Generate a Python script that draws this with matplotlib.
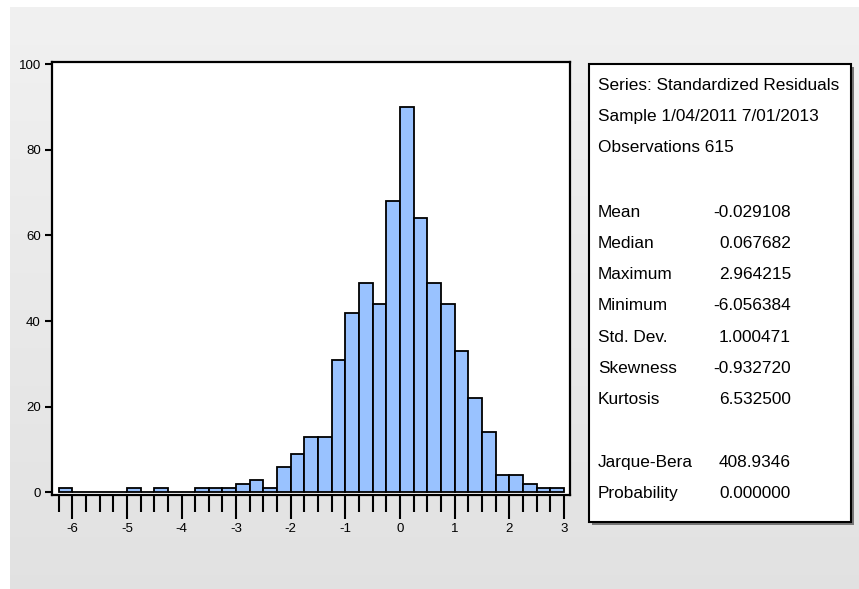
"""EViews-style histogram of standardized residuals with a stats panel."""

import numpy as np
import matplotlib

matplotlib.use("Agg")
import matplotlib.pyplot as plt
from matplotlib.patches import Rectangle
from matplotlib.ticker import FixedLocator

plt.rcParams["font.family"] = ["Liberation Sans", "DejaVu Sans"]

# bins of width 0.25 from -6.25 to 3.0
bin_width = 0.25
bin_left = np.arange(-6.25, 3.0, bin_width)
counts = [
    1, 0, 0, 0, 0, 1, 0, 1, 0, 0,
    1, 1, 1, 2, 3, 1, 6, 9, 13, 13,
    31, 42, 49, 44, 68, 90, 64, 49, 44, 33,
    22, 14, 4, 4, 2, 1, 1,
]
x_major = [-6, -5, -4, -3, -2, -1, 0, 1, 2, 3]
y_major = [0, 20, 40, 60, 80, 100]

header_lines = [
    "Series: Standardized Residuals",
    "Sample 1/04/2011 7/01/2013",
    "Observations 615",
]
stat_names = ["Mean", "Median", "Maximum", "Minimum", "Std. Dev.",
              "Skewness", "Kurtosis", None, "Jarque-Bera", "Probability"]
stat_values = ["-0.029108", "0.067682", "2.964215", "-6.056384", "1.000471",
               "-0.932720", "6.532500", None, "408.9346", "0.000000"]

W, H = 859, 589
fig = plt.figure(figsize=(W / 100, H / 100), dpi=100, facecolor="white")


def box(x0, y0, x1, y1):
    # pixel box (top-left origin) -> figure fraction rect
    return [x0 / W, 1 - y1 / H, (x1 - x0) / W, (y1 - y0) / H]


# grey gradient backdrop
bg = fig.add_axes(box(10, 7, W, H), zorder=-10)
grad = np.linspace(0.945, 0.885, 256)[:, None]
bg.imshow(np.dstack([grad, grad, grad]), aspect="auto", extent=[0, 1, 0, 1])
bg.axis("off")

ax = fig.add_axes(box(52, 62, 570, 495))
ax.set_facecolor("white")
ax.bar(bin_left, counts, width=bin_width, align="edge",
       color="#99c2ff", edgecolor="black", linewidth=1.3, zorder=3)

ax.set_xlim(-6.37, 3.11)
ax.set_ylim(-0.6, 100.5)
for s in ax.spines.values():
    s.set_linewidth(1.6)

ax.xaxis.set_major_locator(FixedLocator(x_major))
minor = [v for v in np.append(bin_left, 3.0) if abs(v - round(v)) > 1e-9]
ax.xaxis.set_minor_locator(FixedLocator(minor))
ax.set_xticklabels([str(v) for v in x_major])
ax.tick_params(axis="x", which="major", direction="out", length=17, width=1.5,
               labelsize=9.5, pad=3)
ax.tick_params(axis="x", which="minor", direction="out", length=12, width=1.5)

ax.yaxis.set_major_locator(FixedLocator(y_major))
ax.set_yticklabels([str(v) for v in y_major])
ax.tick_params(axis="y", direction="out", length=5, width=1.5, labelsize=9.5,
               pad=3)

# stats panel with drop shadow
px0, py0, px1, py1 = 589, 64, 851, 522
fig.patches.append(Rectangle((px0 / W + 3 / W, 1 - py1 / H - 3 / H),
                             (px1 - px0) / W, (py1 - py0) / H,
                             transform=fig.transFigure, facecolor="#777777",
                             edgecolor="none", zorder=1))
fig.patches.append(Rectangle((px0 / W, 1 - py1 / H),
                             (px1 - px0) / W, (py1 - py0) / H,
                             transform=fig.transFigure, facecolor="white",
                             edgecolor="black", linewidth=1.5, zorder=2))


def ptext(x, y, s, ha="left"):
    fig.text(x / W, 1 - y / H, s, ha=ha, va="center", fontsize=12.4,
             color="black", zorder=5)


line_h = 31.3
for i, line in enumerate(header_lines):
    ptext(598, 85 + i * line_h, line)
y = 212
for name, value in zip(stat_names, stat_values):
    if name is not None:
        ptext(598, y, name)
        ptext(791, y, value, ha="right")
    y += line_h

fig.savefig("out.png", dpi=100, facecolor=fig.get_facecolor())
